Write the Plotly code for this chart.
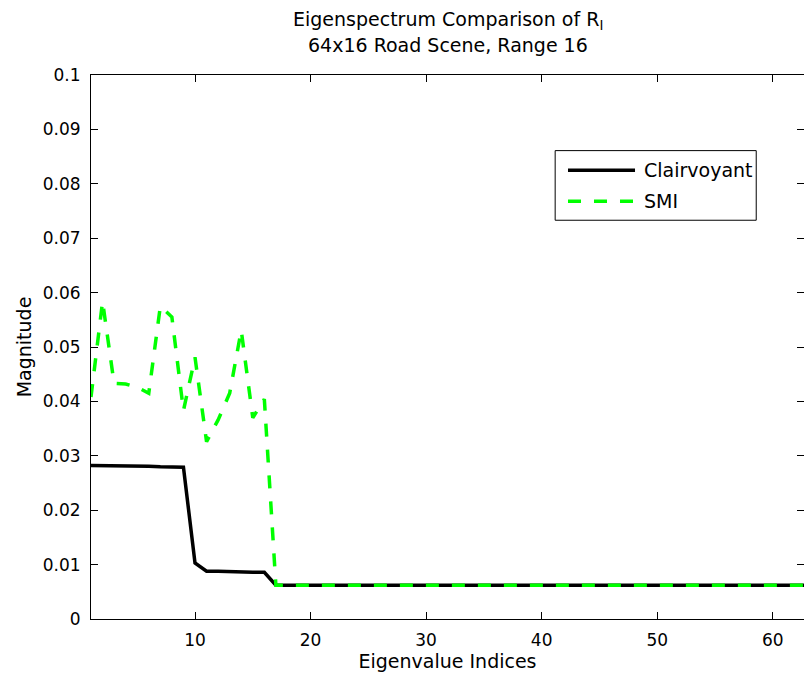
import plotly.graph_objects as go

# ---------------- data ----------------
n_eig = 64
indices = list(range(1, n_eig + 1))

clairvoyant_head = [0.0282, 0.0282, 0.0282, 0.0281, 0.0281, 0.0281, 0.0280, 0.0280, 0.0279,
                    0.0103, 0.0088, 0.0088, 0.0087, 0.0087, 0.0086, 0.0086]
smi_head = [0.0408, 0.0584, 0.0433, 0.0432, 0.0426, 0.0415, 0.0575, 0.0555, 0.0383,
            0.0481, 0.0326, 0.0366, 0.0415, 0.0531, 0.0370, 0.0404]
noise_floor = [0.0062] * (n_eig - len(clairvoyant_head))

clairvoyant = clairvoyant_head + noise_floor
smi = smi_head + noise_floor

series_names = ["Clairvoyant", "SMI"]
y_tickvals = [0, 0.01, 0.02, 0.03, 0.04, 0.05, 0.06, 0.07, 0.08, 0.09, 0.1]
y_ticktext = ["0", "0.01", "0.02", "0.03", "0.04", "0.05", "0.06", "0.07", "0.08", "0.09", "0.1"]
x_tickvals = [10, 20, 30, 40, 50, 60]

title_line1 = "Eigenspectrum Comparison of R<sub>I</sub>"
title_line2 = "64x16 Road Scene, Range 16"
x_title = "Eigenvalue Indices"
y_title = "Magnitude"

FONT = "DejaVu Sans"
GREEN = "#00FF00"

fig = go.Figure()
fig.add_trace(go.Scatter(x=indices, y=clairvoyant, mode="lines", name=series_names[0],
                         line=dict(color="black", width=3.5), showlegend=False))
fig.add_trace(go.Scatter(x=indices, y=smi, mode="lines", name=series_names[1],
                         line=dict(color=GREEN, width=3.5, dash="13px,13px"), showlegend=False))

axis_common = dict(showline=True, linecolor="black", linewidth=1, mirror="ticks",
                   ticks="inside", ticklen=7, tickcolor="black", tickwidth=1,
                   showgrid=False, zeroline=False,
                   tickfont=dict(family=FONT, size=17, color="black"))

fig.update_xaxes(range=[1, 62.7], tickvals=x_tickvals, ticklabelstandoff=6,
                 title=dict(text=x_title, font=dict(family=FONT, size=19, color="black"), standoff=4),
                 **axis_common)
fig.update_yaxes(range=[0, 0.1], tickvals=y_tickvals, ticktext=y_ticktext, ticklabelstandoff=6,
                 title=dict(text=y_title, font=dict(family=FONT, size=19, color="black"), standoff=6),
                 **axis_common)

# custom legend (box, samples, labels)
lx0, lx1, ly0, ly1 = 0.651, 0.933, 0.733, 0.861
row_y = [0.8248, 0.768]
fig.add_shape(type="rect", xref="paper", yref="paper", x0=lx0, x1=lx1, y0=ly0, y1=ly1,
              line=dict(color="black", width=1), fillcolor="white", layer="above")
styles = [dict(color="black", width=3.5), dict(color=GREEN, width=3.5, dash="13px,13px")]
for name, ry, st in zip(series_names, row_y, styles):
    fig.add_shape(type="line", xref="paper", yref="paper", x0=0.669, x1=0.763, y0=ry, y1=ry,
                  line=st, layer="above")
    fig.add_annotation(xref="paper", yref="paper", x=0.773, y=ry, text=name, showarrow=False,
                       xanchor="left", yanchor="middle",
                       font=dict(family=FONT, size=19, color="black"))

# two-line title
fig.add_annotation(xref="paper", yref="paper", x=0.5, y=1.0, yshift=55, text=title_line1,
                   showarrow=False, xanchor="center", yanchor="middle",
                   font=dict(family=FONT, size=19, color="black"))
fig.add_annotation(xref="paper", yref="paper", x=0.5, y=1.0, yshift=30, text=title_line2,
                   showarrow=False, xanchor="center", yanchor="middle",
                   font=dict(family=FONT, size=19, color="black"))

fig.update_layout(width=804, height=681, margin=dict(l=91, r=0, t=74.5, b=61.5),
                  paper_bgcolor="white", plot_bgcolor="white",
                  font=dict(family=FONT, color="black"), showlegend=False)

fig.write_html("out.html")
